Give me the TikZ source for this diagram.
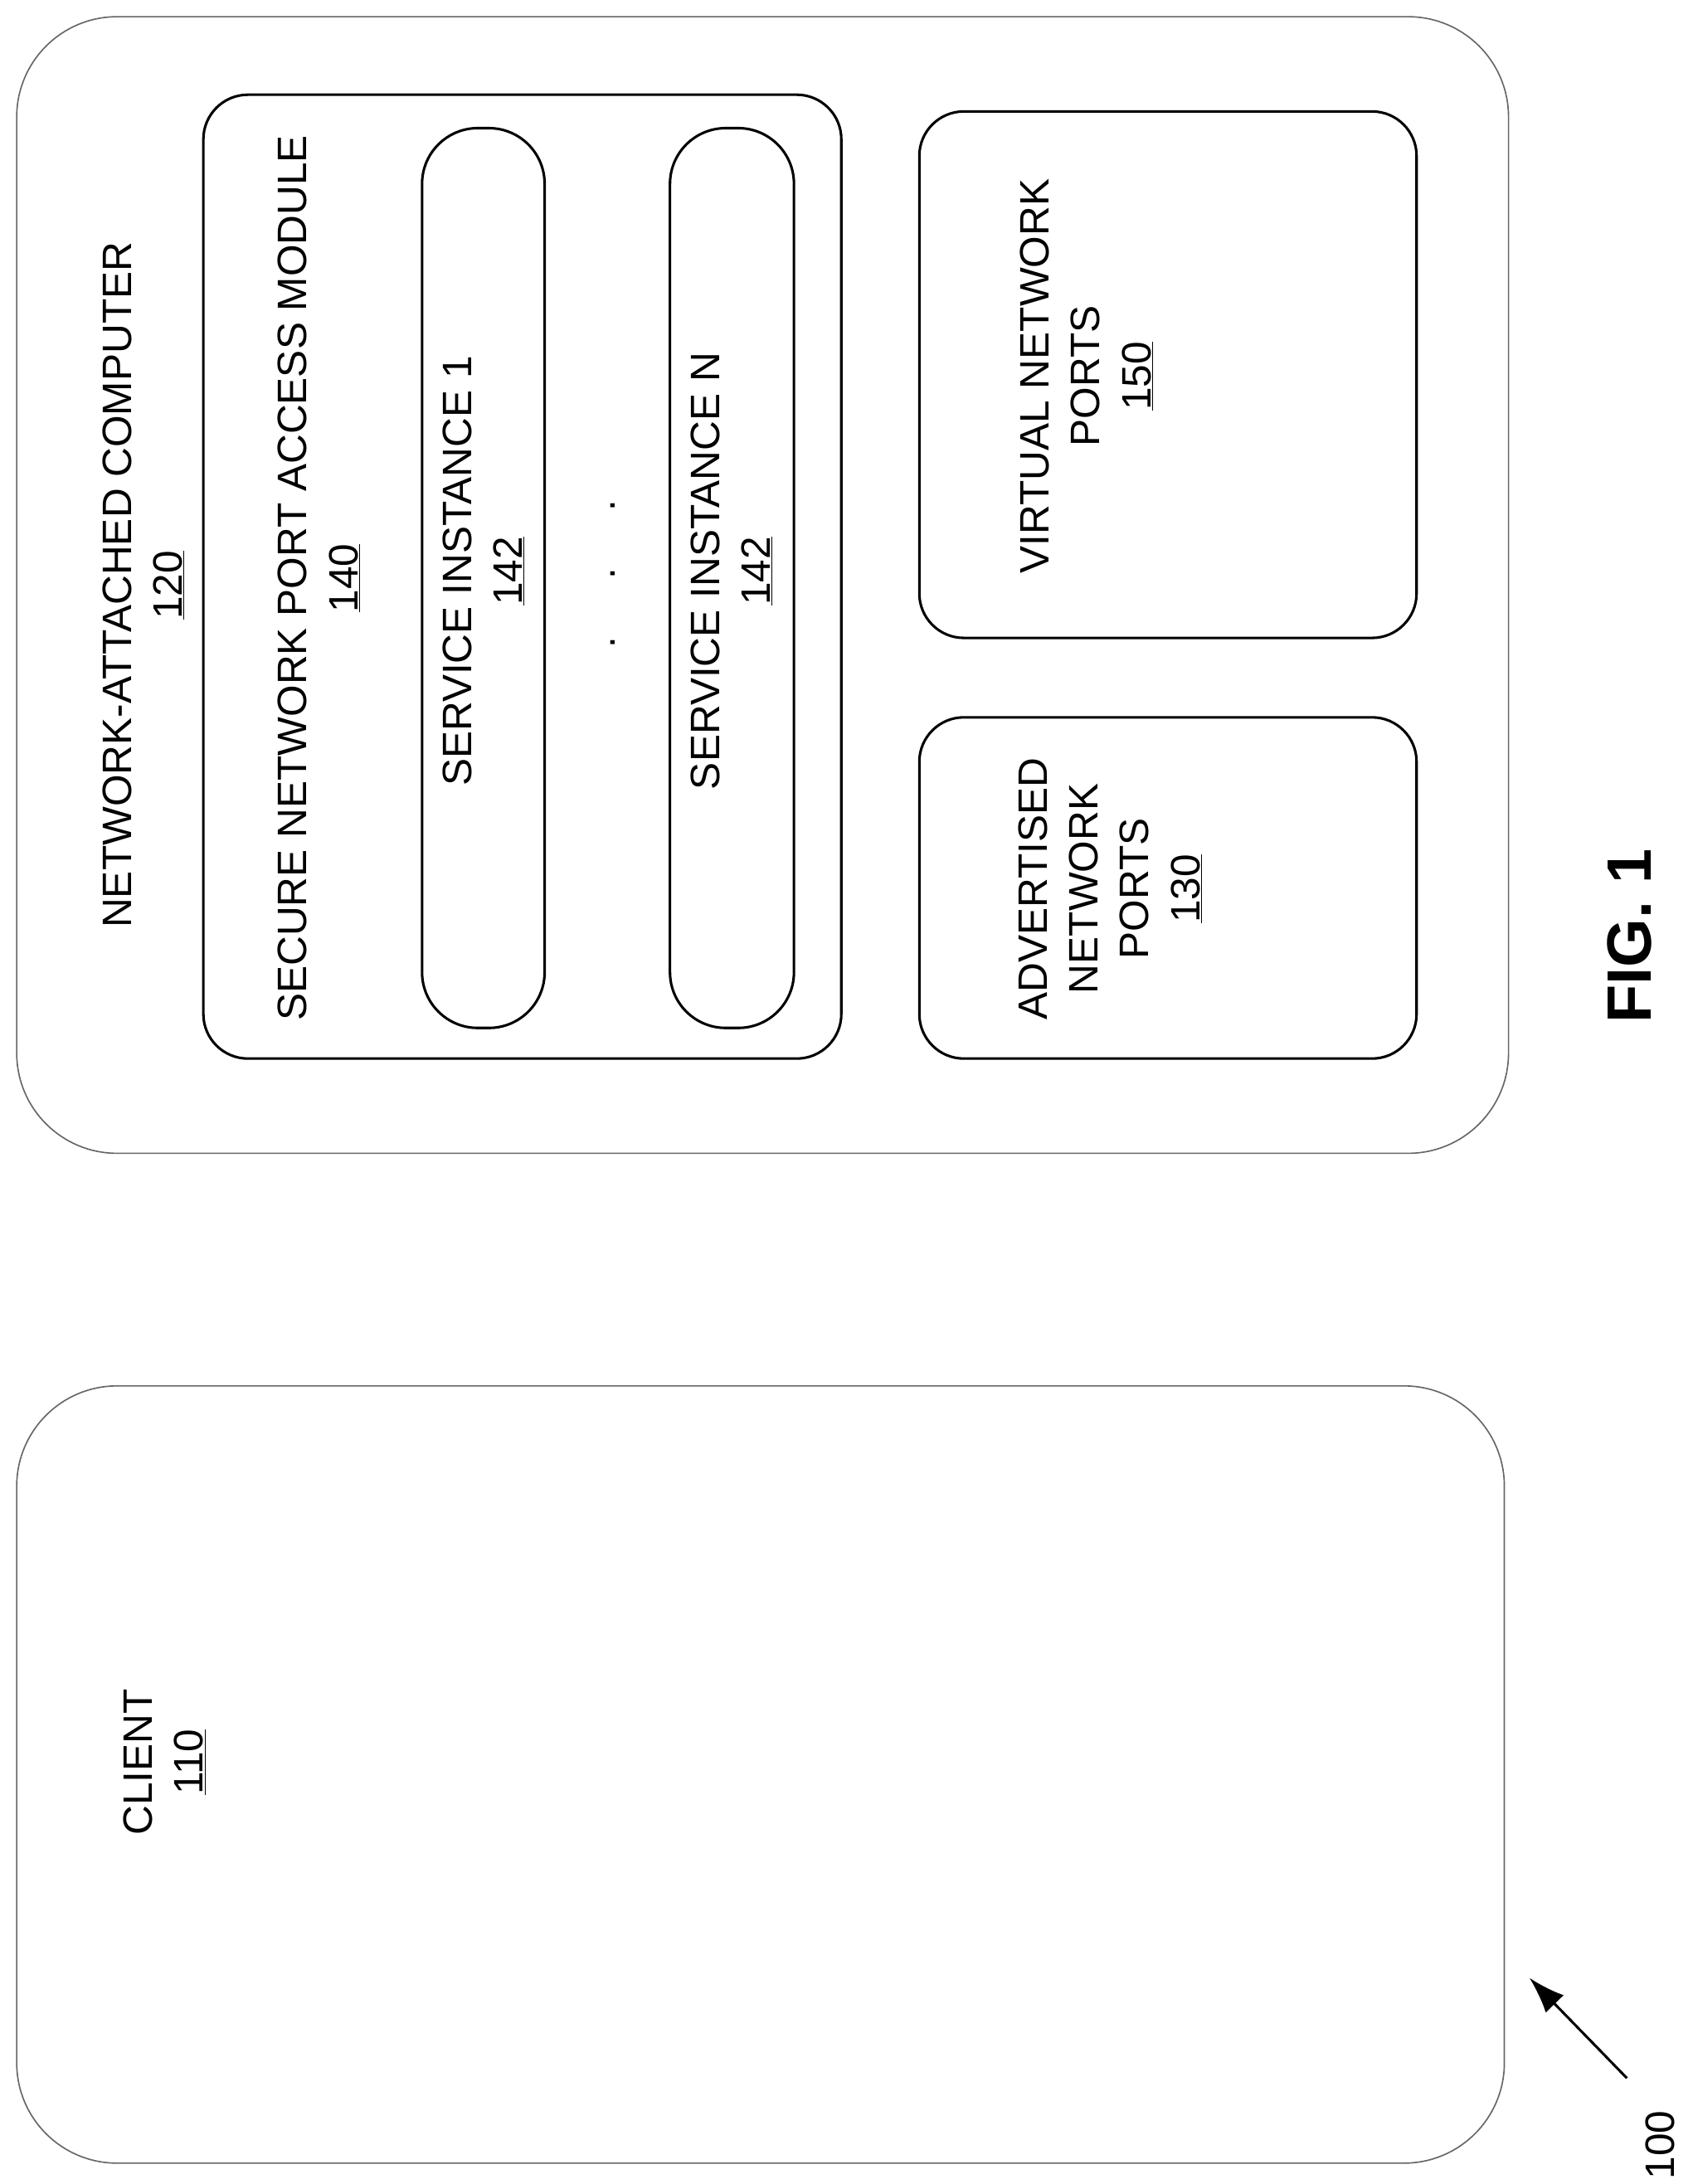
\documentclass[tikz,border=0pt]{standalone}
\usepackage{fontspec}
\setmainfont{Liberation Sans}
\usetikzlibrary{arrows.meta}
\begin{document}
\begin{tikzpicture}[x=0.05cm,y=-0.05cm,
  bx/.style={draw,line width=2.6pt,rounded corners=1.6cm},
  gbx/.style={draw=black!60,line width=1.4pt,rounded corners=3.6cm},
  lbl/.style={rotate=90,align=center,font=\fontsize{42}{52}\selectfont}]
\useasboundingbox (0,0) rectangle (1215,1568);
\draw[gbx] (12,12) rectangle (1083,828);
\draw[gbx] (12,995) rectangle (1080,1553);
\draw[bx] (146,68) rectangle (604,760);
\draw[bx,rounded corners=2cm] (303,92) rectangle (391,738);
\draw[bx,rounded corners=2cm] (481,92) rectangle (570,738);
\draw[bx] (660,80) rectangle (1017,458);
\draw[bx] (660,515) rectangle (1017,760);
\node[lbl] (nac) at (103,420) {NETWORK-ATTACHED COMPUTER\\\underline{120}};
\node[lbl] (snp) at (229,415) {SECURE NETWORK PORT ACCESS MODULE\\\underline{140}};
\node[lbl] (s1) at (347,410) {SERVICE INSTANCE 1\\\underline{142}};
\node[lbl] (sn) at (525,410) {SERVICE INSTANCE N\\\underline{142}};
\node[lbl] (dots) at (440,412) {.\ \ \ \ \ .\ \ \ \ \ .};
\node[lbl] (vnp) at (780,270) {VIRTUAL NETWORK\\PORTS\\\underline{150}};
\node[lbl] (anp) at (797,638) {ADVERTISED\\NETWORK\\PORTS\\\underline{130}};
\node[lbl] (cl) at (118,1265) {CLIENT\\\underline{110}};
\node[rotate=90,font=\fontsize{64}{70}\selectfont\bfseries] (fig) at (1170,672) {FIG. 1};
\node[rotate=90,font=\fontsize{42}{52}\selectfont] (hundred) at (1192,1540) {100};
\coordinate (a0) at (1168,1492);
\coordinate (a1) at (1098,1420);
\draw[line width=2.6pt,-{Latex[length=1.3cm,width=0.9cm]}] (a0) -- (a1);
\end{tikzpicture}
\end{document}
